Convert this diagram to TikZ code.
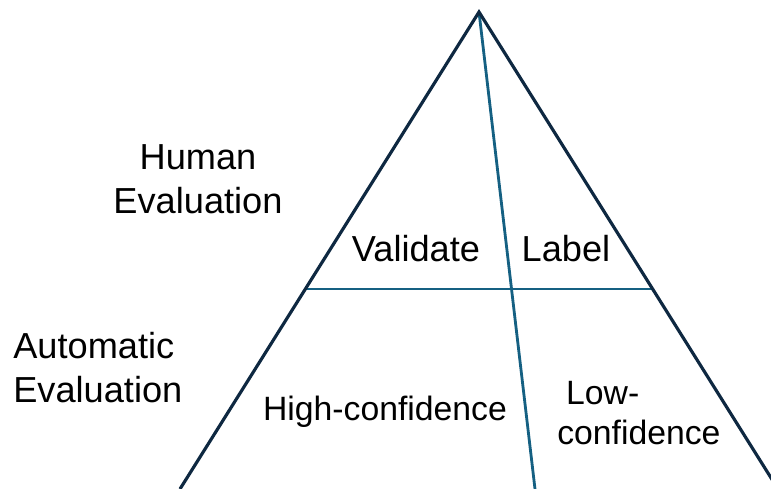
\documentclass[tikz,border=0pt]{standalone}
\usepackage{fontspec}
\setmainfont{Liberation Sans}
\usetikzlibrary{calc}
\definecolor{navyline}{HTML}{0E2841}
\definecolor{tealline}{HTML}{156082}

\begin{document}
\begin{tikzpicture}[x=0.02cm,y=-0.02cm,
		outer/.style={draw=navyline, line width=1.8pt},
		inner/.style={draw=tealline, line width=1.6pt},
		big/.style={font=\fontsize{20.6}{25}\selectfont, inner sep=0pt},
		small/.style={font=\fontsize{19.2}{23}\selectfont, inner sep=0pt}]
		\useasboundingbox (0,0) rectangle (771,489);
		\clip (0,0) rectangle (771,489);
		%Corners
		\coordinate (apex) at (479,12);
		\coordinate (baseL) at (180,489);
		\coordinate (baseR) at (778,489);
		\coordinate (baseM) at (535,489);
		\coordinate (cutL) at ($(apex)!0.5807!(baseL)$);
		\coordinate (cutR) at ($(apex)!0.5807!(baseR)$);
		%lines
		\draw [inner] (apex) -- (baseM);
		\draw [inner] (cutL) -- (cutR);
		\draw [outer, line join=miter] (baseL) -- (apex) -- (baseR);
		%Labels
		\node [big, align=center] (human) at (198,179) {Human\\Evaluation};
		\node [big, align=left, anchor=west] (auto) at (13,368) {Automatic\\Evaluation};
		\node [big] (validate) at (416,249) {Validate};
		\node [big] (label) at (566,249) {Label};
		\node [small] (high) at (385,412) {High-confidence};
		\node [small, align=left, anchor=west] (low) at (557,413) {\hspace*{5pt}Low-\\confidence};
	\end{tikzpicture}
\end{document}
